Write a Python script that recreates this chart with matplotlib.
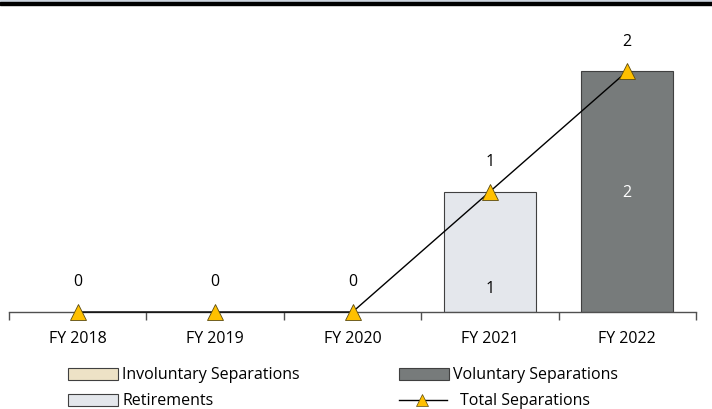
import numpy as np
import matplotlib
matplotlib.use("Agg")
import matplotlib.pyplot as plt
from matplotlib.patches import Rectangle
from matplotlib.lines import Line2D

plt.rcParams['font.family'] = ['Open Sans', 'DejaVu Sans']

years = ['FY 2018', 'FY 2019', 'FY 2020', 'FY 2021', 'FY 2022']
involuntary = [0, 0, 0, 0, 0]
voluntary = [0, 0, 0, 0, 2]
retirements = [0, 0, 0, 1, 0]
total = [0, 0, 0, 1, 2]

c_inv = '#EDE2C6'
c_vol = '#777B7B'
c_ret = '#E4E7EC'
c_edge = '#404040'
c_mark = '#FFC000'
fs = 11.5

fig = plt.figure(figsize=(7.12, 4.10), dpi=100)
ax = fig.add_axes([9/712, 97/410, 687/712, 289/410])

x = np.arange(len(years))
w = 0.67
ret = np.array(retirements)
inv = np.array(involuntary)
vol = np.array(voluntary)

def draw(vals, bottom, color):
    for xi, v, b in zip(x, vals, bottom):
        if v > 0:
            ax.bar(xi, v, w, bottom=b, color=color, edgecolor=c_edge, linewidth=0.8, zorder=2)

draw(ret, np.zeros(5), c_ret)
draw(inv, ret, c_inv)
draw(vol, ret + inv, c_vol)

# bar value labels
for xi, v in zip(x, ret):
    if v > 0:
        ax.text(xi, v * 0.2, str(v), ha='center', va='center', fontsize=fs, color='black', zorder=4)
for xi, v, b in zip(x, vol, ret + inv):
    if v > 0:
        ax.text(xi, b + v / 2, str(v), ha='center', va='center', fontsize=fs, color='white', zorder=4)

# total line
ax.plot(x, total, color='black', linewidth=1.0, marker='^', markersize=12,
        markerfacecolor=c_mark, markeredgecolor='#5a4a10', markeredgewidth=0.6,
        zorder=5, clip_on=False)
for xi, t in zip(x, total):
    ax.annotate(str(t), (xi, t), xytext=(0, 22), textcoords='offset points',
                ha='center', va='center', fontsize=fs)

ax.set_xlim(-0.5, 4.5)
ax.set_ylim(0, 2.4)
for s in ['top', 'right', 'left']:
    ax.spines[s].set_visible(False)
ax.spines['bottom'].set_color('#505050')
ax.spines['bottom'].set_linewidth(1.0)
ax.set_yticks([])
ax.set_xticks(np.arange(-0.5, 5, 1.0))
ax.set_xticklabels([])
ax.tick_params(axis='x', which='major', length=6, color='#505050', width=1.0)
ax.set_xticks(x, minor=True)
ax.set_xticklabels(years, minor=True, fontsize=fs)
ax.tick_params(axis='x', which='minor', length=0, pad=13)

# top band
fig.patches.append(Rectangle((0, 407/410), 1, 3/410, transform=fig.transFigure,
                             color='#CDD5E0', zorder=0))
fig.patches.append(Rectangle((0, 404/410), 1, 3/410, transform=fig.transFigure,
                             color='black', zorder=0))

# legend
def leg_patch(px, py, color, label):
    fig.patches.append(Rectangle((px/712, 1 - (py + 6)/410), 50/712, 12/410,
                                 transform=fig.transFigure, facecolor=color,
                                 edgecolor=c_edge, linewidth=0.8))
    fig.text((px + 54)/712, 1 - py/410, label, ha='left', va='center', fontsize=fs)

leg_patch(68, 375, c_inv, 'Involuntary Separations')
leg_patch(68, 401, c_ret, 'Retirements')
leg_patch(399, 375, c_vol, 'Voluntary Separations')
fig.lines.append(Line2D([399/712, 447/712], [1 - 401/410, 1 - 401/410], transform=fig.transFigure,
                        color='black', linewidth=1.0))
fig.lines.append(Line2D([422/712], [1 - 401/410], transform=fig.transFigure, marker='^',
                        markersize=8, markerfacecolor=c_mark, markeredgecolor='#5a4a10',
                        markeredgewidth=0.5, linestyle='none'))
fig.text(460/712, 1 - 401/410, 'Total Separations', ha='left', va='center', fontsize=fs)

fig.savefig('out.png', dpi=100)
